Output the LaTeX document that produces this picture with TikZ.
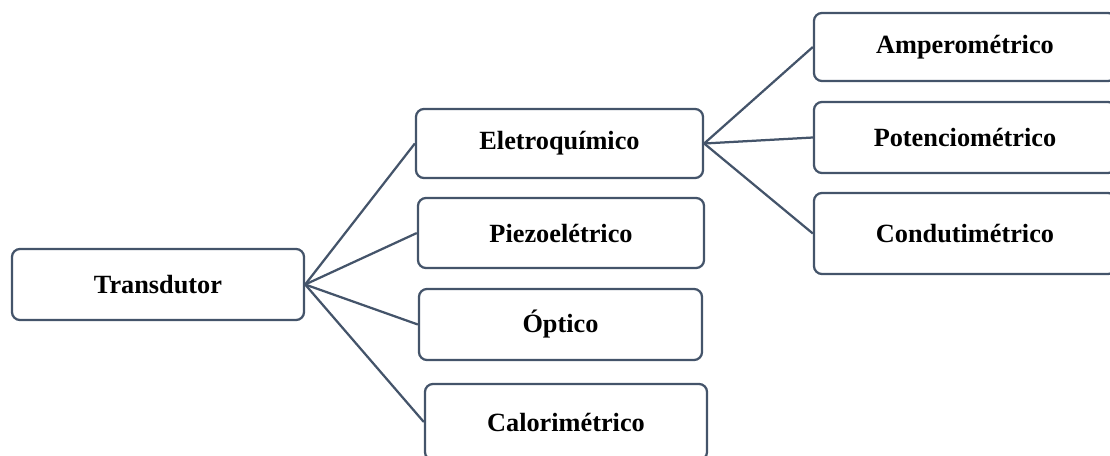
\documentclass[tikz,border=0pt]{standalone}
\usepackage{fontspec}
\setmainfont{Liberation Serif}
\usetikzlibrary{positioning}
\definecolor{boxline}{HTML}{44546A}
\tikzset{
        block/.style={draw=boxline,line width=1.6pt,rounded corners=0.2cm,fill=white,inner sep=0pt,
                font=\fontsize{18.7}{22}\selectfont\bfseries},
        link/.style={draw=boxline,line width=1.6pt}
}

\begin{document}
\begin{tikzpicture}[x=0.025cm,y=-0.025cm]
        \useasboundingbox (0,0) rectangle (1110,455);
        \clip (0,0) rectangle (1110,455);

        \node [block,minimum width=7.3cm,minimum height=1.775cm] (trans) at (158,284.5) {Transdutor};

        \node [block,minimum width=7.175cm,minimum height=1.725cm] (eletro) at (559.5,143.5) {Eletroquímico};
        \node [block,minimum width=7.15cm,minimum height=1.75cm] (piezo) at (561,233) {Piezoelétrico};
        \node [block,minimum width=7.075cm,minimum height=1.775cm] (optico) at (560.5,324.5) {Óptico};
        \node [block,minimum width=7.05cm,minimum height=1.9cm] (calor) at (566,422) {Calorimétrico};

        \node [block,minimum width=7.55cm,minimum height=1.7cm] (amper) at (965,47) {Amperométrico};
        \node [block,minimum width=7.55cm,minimum height=1.775cm] (poten) at (965,137.5) {Potenciométrico};
        \node [block,minimum width=7.55cm,minimum height=2.025cm] (condu) at (965,233.5) {Condutimétrico};

        \draw [link] (trans.east) -- (eletro.west);
        \draw [link] (trans.east) -- (piezo.west);
        \draw [link] (trans.east) -- (optico.west);
        \draw [link] (trans.east) -- (calor.west);

        \draw [link] (eletro.east) -- (amper.west);
        \draw [link] (eletro.east) -- (poten.west);
        \draw [link] (eletro.east) -- (condu.west);
\end{tikzpicture}
\end{document}
